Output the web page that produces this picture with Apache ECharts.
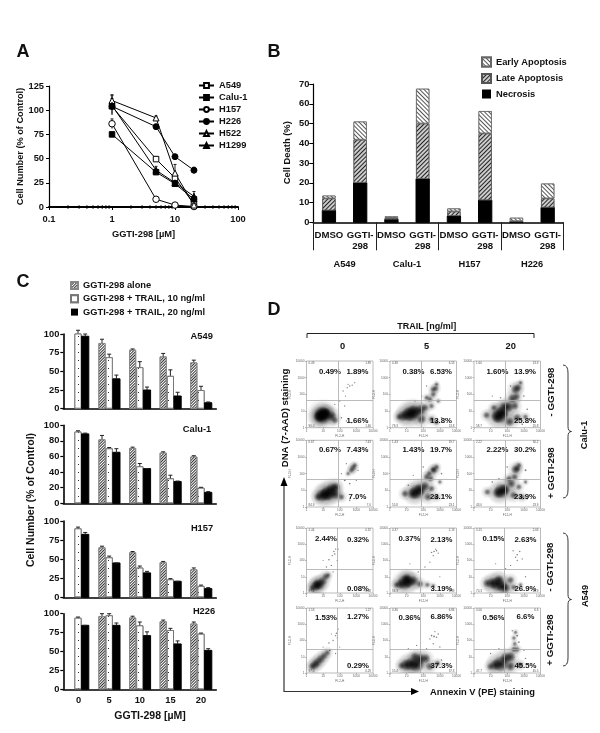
<!DOCTYPE html>
<html><head><meta charset="utf-8">
<style>html,body{margin:0;padding:0;background:#fff}#c{width:600px;height:733px}</style>
<script src="https://cdn.jsdelivr.net/npm/echarts@6/dist/echarts.min.js"></script>
</head><body><div id="c"></div>
<script>
// ---------- Panel A data ----------
const doses = [1, 5, 10, 20];
const minorDoses = [0.2,0.3,0.4,0.5,0.6,0.7,0.8,0.9,2,3,4,5,6,7,8,9,20,30,40,50,60,70,80,90];
const a549A = [104, 49.5, 30, 3];
const calu1A = [75, 36, 24, 8];
const h157A = [86, 8, 2, 0.5];
const h226A = [104, 83, 52, 38];
const h522A = [110, 92, 35, 2];
const h1299A = [105, 38, 25, 11];
const a549AErr = [2, 2, 3, 1];
const calu1AErr = [1, 2, 2, 2];
const h157AErr = [5, 1, 1, 0];
const h226AErr = [8, 2, 2, 3];
const h522AErr = [6, 2, 9, 2];
const h1299AErr = [10, 4, 1, 5];
// ---------- Panel B data ----------
const treatments = ['DMSO','GGTI-\n298','DMSO','GGTI-\n298','DMSO','GGTI-\n298','DMSO','GGTI-\n298'];
const cellLinesB = ['A549','Calu-1','H157','H226'];
const necrosis = [6, 20, 1.5, 22, 3.2, 11.2, 0.3, 7.5];
const lateApop = [6.1, 21.8, 0.7, 28, 2.3, 33.8, 0.3, 4.6];
const earlyApop = [1.4, 9.2, 0.8, 17.6, 1.5, 11.3, 1.7, 7.5];
// ---------- Panel C data (bar height, top of error bar) ----------
const concentrations = ['0','5','10','15','20'];
const a549Alone = [null,88,79,70,62],  a549AloneE = [null,93,80,74,65];
const a549T10 = [101,69,55.6,44,25],   a549T10E = [105,73,63,52,30];
const a549T20 = [97,40,25,17,8],       a549T20E = [100,45,29,22,9];
const calu1Alone = [null,82,71,65,60], calu1AloneE = [null,87,72,66,61];
const calu1T10 = [92,70.5,47.5,32,20], calu1T10E = [93,71.5,51,36,20.5];
const calu1T20 = [89,65.4,44.5,28,14], calu1T20E = [90,70,44.5,28.5,15];
const h157Alone = [null,65.5,59,46,36.7], h157AloneE = [null,67,60,47,38.5];
const h157T10 = [90.4,52.4,39,23.6,15],   h157T10E = [92,54,41,24.5,16];
const h157T20 = [82.5,45,32,21,11.4],     h157T20E = [85,45,34,21,12.7];
const h226Alone = [null,97,95,90,87],  h226AloneE = [null,100,96.7,91.6,89];
const h226T10 = [94.7,98,84.6,78.4,73.6], h226T10E = [95.6,100,89,80.6,74.4];
const h226T20 = [84.6,84.6,71,60,51.5],   h226T20E = [84.6,87.7,76,64,53.7];
// ---------- Panel D data: [log10 Annexin, log10 7-AAD, event density] ----------
const calu1Ctl0 = [[0.95,0.75,100],[0.9,0.75,60],[1.05,0.85,50],[0.75,0.65,40],[1.1,0.8,35],[1.2,0.9,25],[0.85,0.7,30],[1.5,0.7,30],[1.7,0.45,12],
  [2.1,0.6,1],[2.4,0.4,.6],[2.7,0.3,.5],[2.3,1.3,.5],[2.0,1.6,.5],[2.45,2.4,.6],[2.6,2.5,.8],[2.5,2.6,.6],[2.75,2.55,.6],[2.2,2.2,.5],[2.9,2.7,.4],[2.35,1.9,.4],[1.7,1.4,.6]];
const calu1Ctl5 = [[1.3,0.85,90],[1.1,0.8,60],[1.45,0.95,60],[0.8,0.7,35],[0.55,0.65,12],[1.8,1.05,35],[2.1,1.2,15],[1.9,0.5,25],[2.5,0.5,10],[2.8,0.3,4],
  [2.6,2.3,8],[2.75,2.35,8],[2.6,2.0,8],[2.4,1.7,8],[2.5,1.3,6],[2.8,2.6,3],[2.2,1.8,4],[2.9,1.6,2],[3.1,0.6,1],[2.2,2.5,.6],[1.5,1.6,.5],[1.9,1.9,.7]];
const calu1Ctl20 = [[1.55,0.75,90],[1.4,0.65,50],[1.7,0.9,50],[2.05,1.25,35],[1.8,1.25,25],[2.45,1.3,18],[2.5,2.3,25],[2.65,2.4,15],[2.3,1.75,25],[2.55,1.85,15],[0.75,0.75,12],[2.15,0.35,25],[2.6,0.6,20],[3.1,0.65,6],[1.2,1.2,8],
  [2.8,2.7,3],[2.2,2.5,1],[3.0,1.9,1],[3.2,1.1,1],[1.6,1.8,.8],[1.1,1.9,.4],[2.9,0.2,1]];
const calu1Drug0 = [[1.3,0.85,70],[0.95,0.7,50],[1.55,1.05,50],[1.75,1.2,25],[0.7,0.6,18],[1.2,0.75,60],[1.7,0.75,30],[2.1,0.6,10],
  [2.8,2.35,10],[2.7,2.2,7],[2.9,2.5,5],[2.5,2.0,2],[2.3,1.6,1.5],[3.0,1.6,.6],[2.6,1.4,1],[2.6,0.4,1],[3.0,0.5,.5],[2.4,2.6,.5],[3.1,2.2,.6],[2.1,2.0,.5]];
const calu1Drug5 = [[1.6,0.9,70],[1.4,0.8,45],[1.8,1.05,45],[2.1,1.25,25],[2.2,1.8,10],[2.45,1.7,10],[2.65,2.2,14],[2.6,2.25,8],[2.35,2.0,8],[2.8,2.4,6],[0.9,0.8,14],[2.3,0.6,18],[2.8,0.6,8],[2.5,1.1,10],
  [3.0,1.5,2],[3.1,2.0,1],[2.0,2.4,.8],[1.4,1.9,.5],[3.2,0.7,1],[1.1,1.3,1]];
const calu1Drug20 = [[1.65,0.95,70],[1.45,0.85,40],[1.85,1.05,40],[2.25,1.4,22],[2.1,1.7,10],[2.5,2.25,22],[2.6,2.3,10],[2.45,1.8,12],[2.7,2.5,6],[0.8,0.9,10],[2.4,0.7,18],[2.9,0.6,8],[2.7,1.2,8],
  [3.1,1.5,2],[3.1,2.2,1.5],[2.0,2.4,1],[1.5,1.7,.8],[1.1,1.5,1],[3.2,0.5,1]];
const a549Ctl0 = [[0.75,0.5,35],[0.55,0.42,30],[0.35,0.3,14],[0.95,0.7,25],[1.15,1.0,14],[0.65,0.55,30],[1.3,1.1,4],
  [1.35,2.05,1],[1.65,2.55,1],[1.7,2.4,.8],[1.5,1.7,.8],[1.75,2.7,.6],[1.2,1.6,.6],[1.85,2.0,.6],[1.6,1.3,.8],[1.9,2.7,.4],[1.0,2.0,.3],[1.55,2.3,.6]];
const a549Ctl5 = [[0.9,0.65,70],[0.65,0.55,30],[0.4,0.5,10],[1.1,0.7,50],[1.4,0.75,30],[1.0,0.9,30],[1.8,0.55,14],[2.25,0.5,5],[2.6,0.45,2],
  [2.65,2.55,1],[2.5,2.5,.8],[2.8,2.6,.8],[2.9,2.45,.6],[2.6,2.3,.6],[1.7,1.3,.6],[2.1,1.6,.5],[2.4,1.9,.4],[1.2,1.8,.3],[3,1.0,.4],[2.75,2.7,.5]];
const a549Ctl20 = [[1.4,0.55,70],[1.1,0.6,40],[0.8,0.6,20],[1.7,0.4,40],[1.9,0.3,25],[2.2,0.8,14],[1.5,0.8,30],[2.4,0.35,8],[2.8,0.5,2],
  [2.6,2.35,1],[2.5,2.2,.7],[2.75,2.55,.7],[2.35,2.6,.5],[2.9,2.1,.6],[2.6,2.0,.6],[2.2,1.7,.5],[1.9,1.5,.5],[3.1,1,.5],[1.3,1.8,.3]];
const a549Drug0 = [[0.85,0.85,22],[0.65,0.65,22],[0.35,0.4,16],[1.05,1.05,14],[1.25,1.25,10],[0.5,0.5,22],[1.4,1.4,1.5],
  [1.35,1.85,.8],[1.8,2.45,1],[1.75,2.3,.8],[1.6,2.0,.6],[1.9,2.7,.6],[1.5,2.4,.4],[1.0,1.6,.4],[2.0,1.6,.4],[1.75,1.2,.5],[1.85,2.15,.5]];
const a549Drug5 = [[1.6,0.5,70],[1.0,0.5,45],[1.3,0.55,60],[0.7,0.45,14],[2.15,0.9,25],[1.8,0.85,40],[2.85,0.6,8],[2.4,0.4,18],[1.5,1.0,20],
  [2.65,2.25,1.2],[2.5,2.3,1],[2.8,2.2,1],[2.9,2.4,.8],[2.4,2.1,.6],[2.6,1.8,.7],[3,1.6,.5],[2.2,1.5,.6],[3.1,0.8,1],[1.6,1.7,.4],[2.7,2.55,.5],[1.1,1.5,.4]];
const a549Drug20 = [[1.6,0.55,80],[1.3,0.5,40],[1.0,0.4,14],[2.2,1.0,30],[1.9,0.9,40],[2.4,1.45,8],[2.6,1.45,6],[2.75,0.5,10],[2.2,0.4,25],
  [2.4,2.15,2.5],[2.5,2.5,2],[2.45,1.8,3],[2.6,2.3,1.5],[2.7,1.9,1],[2.3,2.6,.6],[3.1,0.9,.7],[1.5,1.5,.5],[1.0,1.2,.5],[3,1.4,.5]];
const flowPlots = [
  [calu1Ctl0, calu1Ctl5, calu1Ctl20], [calu1Drug0, calu1Drug5, calu1Drug20],
  [a549Ctl0, a549Ctl5, a549Ctl20], [a549Drug0, a549Drug5, a549Drug20]];
const flowPct = [
  [['0.49%','1.89%','1.66%'],['0.38%','6.53%','13.8%'],['1.60%','13.9%','25.8%']],
  [['0.67%','7.43%','7.0%'],['1.43%','19.7%','23.1%'],['2.22%','30.2%','23.9%']],
  [['2.44%','0.32%','0.08%'],['0.37%','2.13%','3.19%'],['0.15%','2.63%','26.9%']],
  [['1.53%','1.27%','0.29%'],['0.36%','6.86%','37.3%'],['0.56%','6.6%','45.5%']]];
const flowLL = [['96.0','79.3','58.7'],['84.9','55.8','43.0'],['97.2','94.3','70.3'],['97.0','55.4','47.7']];
const flowTicks = ['1','10','100','1000','10000'];
const columnLabels = ['0','5','20'];

// ---------- Build ----------
const F = '"Liberation Sans", Arial, sans-serif';
const INK = '#111';
const bold = s => ({fontFamily:F, fontWeight:'bold', fontSize:s, color:INK});
const grid=[], xAxis=[], yAxis=[], series=[], graphic=[];
function txt(t,x,y,size,rot,align,weight,fill){
  graphic.push({type:'text',x,y,rotation:rot||0,silent:true,style:{text:t,x:0,y:0,fill:fill||INK,
    font:(weight||'bold')+' '+size+'px '+F,textAlign:align||'center',textVerticalAlign:'middle'}});
}
function errSeries(name,xi,yi,points,cap){
  series.push({name,type:'custom',xAxisIndex:xi,yAxisIndex:yi,silent:true,z:4,clip:false,data:points,encode:{x:0,y:2},
    renderItem(p,api){
      const a=api.coord([api.value(0),api.value(1)]), b=api.coord([api.value(0),api.value(2)]);
      const off=api.value(3);
      const x=a[0]+off, st={stroke:'#222',lineWidth:1};
      return {type:'group',children:[
        {type:'line',shape:{x1:x,y1:a[1],x2:x,y2:b[1]},style:st},
        {type:'line',shape:{x1:x-cap,y1:b[1],x2:x+cap,y2:b[1]},style:st}]};
    }});
}
// -- Panel A
grid.push({left:49,top:86,width:189,height:121});
xAxis.push({type:'log',logBase:10,min:0.1,max:100,gridIndex:0,name:'GGTI-298 [µM]',nameLocation:'middle',nameGap:23,
  nameTextStyle:bold(9.3),axisLine:{lineStyle:{color:'#000',width:2}},axisTick:{length:3,inside:false,lineStyle:{color:'#000',width:1}},
  axisLabel:{...bold(9.3),margin:8,formatter:v=>String(v)},splitLine:{show:false},minorTick:{show:false}});
yAxis.push({type:'value',min:0,max:125,interval:25,gridIndex:0,name:'Cell Number (% of Control)',nameLocation:'middle',nameGap:21,
  nameTextStyle:bold(9.2),axisLine:{show:true,lineStyle:{color:'#000',width:1.2}},axisTick:{show:true,length:3,lineStyle:{color:'#000',width:1}},
  axisLabel:{...bold(9.3),margin:5},splitLine:{show:false}});
const linesA=[['A549',a549A,a549AErr,'rect','#fff',5.5],['Calu-1',calu1A,calu1AErr,'rect','#000',5.5],['H157',h157A,h157AErr,'circle','#fff',6.5],
  ['H226',h226A,h226AErr,'circle','#000',6],['H522',h522A,h522AErr,'triangle','#fff',6],['H1299',h1299A,h1299AErr,'triangle','#000',6]];
linesA.forEach(([n,v,e,sym,fill,sz])=>{
  errSeries(n+' err',0,0,doses.map((d,i)=>[d,v[i]-e[i],v[i]+e[i],0]),1.5);
  series.push({name:n,type:'line',xAxisIndex:0,yAxisIndex:0,data:doses.map((d,i)=>[d,v[i]]),symbol:sym,symbolSize:sz,showSymbol:true,
    lineStyle:{color:'#000',width:1},itemStyle:{color:fill,borderColor:'#000',borderWidth:1},z:5,animation:false,clip:false});
});
series.push({name:'minor',type:'scatter',xAxisIndex:0,yAxisIndex:0,data:minorDoses.map(d=>[d,0]),symbol:'rect',symbolSize:[1,4],silent:true,
  itemStyle:{color:'#000'},clip:false,z:3});
// -- Panel B
grid.push({left:313.3,top:84,width:250,height:138.3});
xAxis.push({type:'category',gridIndex:1,data:treatments,axisLine:{lineStyle:{color:'#000',width:1.5}},axisTick:{show:false},
  axisLabel:{...bold(9.6),margin:8,lineHeight:11,interval:0}});
xAxis.push({type:'category',gridIndex:1,data:cellLinesB,axisLine:{show:false},axisTick:{show:true,length:28,lineStyle:{color:'#222',width:1}},
  axisLabel:{...bold(9.3),margin:38,interval:0},position:'bottom'});
yAxis.push({type:'value',gridIndex:1,min:0,max:70,interval:10,axisLine:{show:true,lineStyle:{color:'#000',width:1.2}},
  axisTick:{show:true,length:4,lineStyle:{color:'#000',width:1}},axisLabel:{...bold(9.3),margin:4},splitLine:{show:false}});
const hatchB={symbol:'rect',symbolSize:1,dashArrayX:[1,0],dashArrayY:[1,1.5],rotation:Math.PI/4,color:'#555',backgroundColor:'#fff'};
const denseB={symbol:'rect',symbolSize:1,dashArrayX:[1,0],dashArrayY:[1,1.2],rotation:-Math.PI/4,color:'#222',backgroundColor:'#ccc'};
[['Necrosis',necrosis,{color:'#000',borderColor:'#000'}],
 ['Late Apoptosis',lateApop,{color:'#fff',decal:denseB,borderColor:'#555',borderWidth:.8}],
 ['Early Apoptosis',earlyApop,{color:'#fff',decal:hatchB,borderColor:'#666',borderWidth:.8}]].forEach(([n,v,st])=>{
  series.push({name:n,type:'bar',stack:'b',xAxisIndex:1,yAxisIndex:1,data:v,barWidth:13.3,itemStyle:st,silent:true});
});
// -- Panel C
const hatchC={symbol:'rect',symbolSize:1,dashArrayX:[1,0],dashArrayY:[1,1],rotation:-Math.PI/4,color:'#333',backgroundColor:'#fff'};
const dotsC={symbol:'rect',symbolSize:1,dashArrayX:[1,5],dashArrayY:[1,7],color:'#333',backgroundColor:'#fff'};
const BW=7.2;
const styC=[{color:'#fff',decal:hatchC,borderColor:'#888',borderWidth:1},
            {color:'#fff',decal:dotsC,borderColor:'#777',borderWidth:1},
            {color:'#000',borderColor:'#000'}];
const namesC=['GGTI-298 alone','GGTI-298 + TRAIL, 10 ng/ml','GGTI-298 + TRAIL, 20 ng/ml'];
const panelsC=[
 {top:334,bottom:408.7,interval:25,label:'A549',lx:201.7,ly:336.7,sets:[[a549Alone,a549AloneE],[a549T10,a549T10E],[a549T20,a549T20E]]},
 {top:425.3,bottom:503.3,interval:20,label:'Calu-1',lx:197,ly:429.3,sets:[[calu1Alone,calu1AloneE],[calu1T10,calu1T10E],[calu1T20,calu1T20E]]},
 {top:521,bottom:597.3,interval:25,label:'H157',lx:202,ly:528,sets:[[h157Alone,h157AloneE],[h157T10,h157T10E],[h157T20,h157T20E]]},
 {top:613.7,bottom:689.3,interval:25,label:'H226',lx:204,ly:611,sets:[[h226Alone,h226AloneE],[h226T10,h226T10E],[h226T20,h226T20E]]}];
panelsC.forEach((p,pi)=>{
  const g=grid.length, xi=xAxis.length, yi=yAxis.length;
  const last=pi===3;
  grid.push({left:63.3,top:p.top,width:153,height:p.bottom-p.top});
  xAxis.push({type:'category',gridIndex:g,data:concentrations,axisLine:{lineStyle:{color:'#000',width:1.6}},axisTick:{show:false},
    axisLabel:{...bold(9.3),show:last,margin:7,interval:0}});
  yAxis.push({type:'value',gridIndex:g,min:0,max:100,interval:p.interval,axisLine:{show:true,lineStyle:{color:'#000',width:1.6}},
    axisTick:{show:true,length:3,lineStyle:{color:'#000',width:1.2}},axisLabel:{...bold(9.3),margin:4},splitLine:{show:false}});
  // shifted frame that holds the two-bar group at dose 0
  const g2=grid.length, xi2=xAxis.length, yi2=yAxis.length;
  grid.push({left:66.3,top:p.top,width:153,height:p.bottom-p.top});
  xAxis.push({type:'category',gridIndex:g2,data:concentrations,show:false});
  yAxis.push({type:'value',gridIndex:g2,min:0,max:100,show:false,splitLine:{show:false}});
  p.sets.forEach(([vals,tops],si)=>{
    series.push({name:namesC[si],type:'bar',xAxisIndex:xi,yAxisIndex:yi,data:vals.map((v,i)=>i?v:null),barWidth:BW,barGap:0,itemStyle:styC[si],silent:true});
    errSeries('e'+pi+si,xi,yi,vals.map((v,i)=>i?[i,v,tops[i],(si-1)*BW]:null).filter(Boolean),2);
    if(si>0){
      series.push({name:namesC[si],type:'bar',xAxisIndex:xi2,yAxisIndex:yi2,data:vals.map((v,i)=>i?null:v),barWidth:BW,barGap:0,itemStyle:styC[si],silent:true});
      errSeries('e0'+pi+si,xi2,yi2,[[0,vals[0],tops[0],(si-1.5)*BW]],2);
    }
  });
  txt(p.label,p.lx,p.ly,9.3);
});
// -- Panel D
const rowTops=[361,440.3,528,608], rowH=[66.7,66.7,65,65];
const colLefts=[306.5,390,474], colW=66.5;
const quadX=[1.9,1.9,1.83,1.83], quadY=[1.65,1.65,1.47,1.47];
const pctX=[[23.5,51,51],[23.5,51,51],[19.5,51.5,51.5],[19.5,51.5,51.5]];
const pctY=[[10.7,10.7,59.7],[10,9.5,57],[11,12,60.7],[10.3,8.7,57.7]];
const softFill=a=>new echarts.graphic.RadialGradient(.5,.5,.5,[{offset:0,color:`rgba(0,0,0,${a})`},{offset:.45,color:`rgba(0,0,0,${a*.62})`},{offset:1,color:'rgba(0,0,0,0)'}]);
flowPlots.forEach((row,r)=>row.forEach((pts,c)=>{
  const g=grid.length, xi=xAxis.length, yi=yAxis.length;
  const L=colLefts[c], T=rowTops[r], H=rowH[r];
  grid.push({left:L,top:T,width:colW,height:H,show:true,borderColor:'#aaa',borderWidth:.8,backgroundColor:'#fff'});
  const common={type:'value',min:0,max:4,interval:1,gridIndex:g,nameLocation:'middle',nameTextStyle:{fontSize:3.2,color:'#666',fontFamily:F},
    axisLine:{show:false},axisTick:{show:true,length:1.5,lineStyle:{color:'#888',width:.6}},
    axisLabel:{fontSize:3.2,color:'#666',margin:2,fontFamily:F,formatter:v=>flowTicks[v]},splitLine:{show:false}};
  xAxis.push({...common,name:'FL2-H',nameGap:7});
  yAxis.push({...common,name:'FL3-H',nameGap:9});
  series.push({name:'flow'+r+c,type:'custom',xAxisIndex:xi,yAxisIndex:yi,silent:true,animation:false,z:2,clip:true,data:pts,encode:{x:0,y:1},
    renderItem(p,api){
      const pos=api.coord([api.value(0),api.value(1)]), w=api.value(2);
      if(w<2) return {type:'circle',shape:{cx:pos[0],cy:pos[1],r:.5+w*.3},style:{fill:'rgba(0,0,0,.5)'}};
      const r0=Math.sqrt(w)*.8+1;
      return {type:'group',children:[
        {type:'circle',shape:{cx:pos[0],cy:pos[1],r:r0*1.9},style:{fill:softFill(.22)}},
        {type:'circle',shape:{cx:pos[0],cy:pos[1],r:r0},style:{fill:softFill(Math.min(.85,.4+w/110))}}]};
    },
    markLine:{silent:true,z:4,symbol:'none',animation:false,label:{show:false},lineStyle:{color:'#aaa',width:.8,type:'solid'},
      data:[{xAxis:quadX[r]},{yAxis:quadY[r]}]}});
  const pct=flowPct[r][c];
  for(let k=0;k<3;k++) txt(pct[k],L+pctX[r][k],T+pctY[r][k],7.8);
  txt(pct[0].replace('%',''),L+2,T+2,3,0,'left','normal','#555');
  txt(pct[1].replace('%',''),L+colW-2,T+2,3,0,'right','normal','#555');
  txt(pct[2].replace('%',''),L+colW-2,T+H-2,3,0,'right','normal','#555');
  txt(flowLL[r][c],L+2,T+H-2,3,0,'left','normal','#555');
}));
// D annotations
txt('TRAIL [ng/ml]',426.7,327,9);
graphic.push({type:'polyline',silent:true,shape:{points:[[307,338],[307,333.5],[534,333.5],[534,338]]},style:{stroke:'#222',lineWidth:1,fill:'none'}});
[342.7,426.7,510.7].forEach((x,i)=>txt(columnLabels[i],x,346,9.3));
[['- GGTI-298',551.7,392],['+ GGTI-298',551.7,473],['- GGTI-298',550.7,567],['+ GGTI-298',550.7,640]].forEach(([t,x,y])=>txt(t,x,y,9.7,Math.PI/2));
txt('Calu-1',584,435,9.3,Math.PI/2);
txt('A549',585,596,9.3,Math.PI/2);
function brace(x0,y0,y1){
  const x1=x0+5, x2=x0+8.5, m=(y0+y1)/2, st={stroke:'#222',lineWidth:.9,fill:'transparent'};
  const bez=(a,b,c,d,e,f)=>graphic.push({type:'bezierCurve',silent:true,shape:{x1:a,y1:b,cpx1:c,cpy1:d,x2:e,y2:f},style:st});
  const ln=(a,b)=>graphic.push({type:'line',silent:true,shape:{x1:x1,y1:a,x2:x1,y2:b},style:st});
  bez(x0,y0,x1,y0,x1,y0+8); ln(y0+8,m-5); bez(x1,m-5,x1,m,x2,m); bez(x2,m,x1,m,x1,m+5); ln(m+5,y1-8); bez(x1,y1-8,x1,y1,x0,y1);
}
brace(563,365,498); brace(563,533,666);
graphic.push({type:'polyline',silent:true,shape:{points:[[284,484],[284,691.5],[413,691.5]]},style:{stroke:'#333',lineWidth:1.2,fill:'none'}});
graphic.push({type:'polygon',silent:true,shape:{points:[[280.5,486],[287.5,486],[284,477]]},style:{fill:'#000'}});
graphic.push({type:'polygon',silent:true,shape:{points:[[411,688],[411,695],[419,691.5]]},style:{fill:'#000'}});
txt('DNA (7-AAD) staining',285,418,9.6,Math.PI/2);
txt('Annexin V (PE) staining',482.5,692,9.3);
// Outer labels
txt('A',23,52,18); txt('B',274,52,18); txt('C',23,282,18); txt('D',274,310,18);
txt('Cell Death (%)',287,152.7,9.4,Math.PI/2);
txt('Cell Number (% of Control)',31,500,10.5,Math.PI/2);
txt('GGTI-298 [µM]',150,716.5,10.5);

const legendBase={orient:'vertical',selectedMode:false,padding:0,textStyle:bold(9.3)};
const option={animation:false,backgroundColor:'#fff',grid,xAxis,yAxis,series,graphic:{elements:graphic},
  legend:[
   {...legendBase,left:198,top:81,itemWidth:15,itemHeight:6,itemGap:3,data:['A549','Calu-1','H157','H226','H522','H1299'].map(name=>({name}))},
   {...legendBase,left:481,top:56.5,itemWidth:9,itemHeight:9,itemGap:5.5,icon:'rect',data:['Early Apoptosis','Late Apoptosis','Necrosis']},
   {...legendBase,left:70,top:281,itemWidth:7,itemHeight:7,itemGap:4.3,icon:'rect',data:namesC}
  ]};
const chart=echarts.init(document.getElementById('c'),null,{renderer:'canvas',width:600,height:733});
chart.setOption(option);
</script></body></html>
